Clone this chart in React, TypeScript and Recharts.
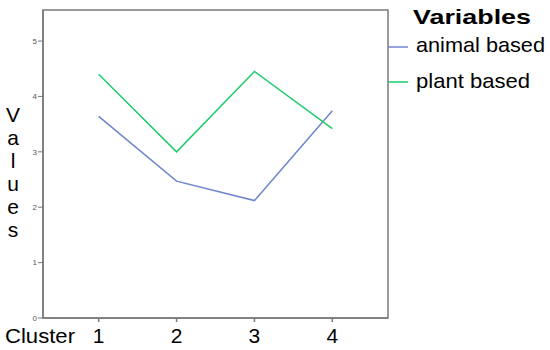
import React from "react";
import { LineChart, Line, XAxis, YAxis, ReferenceArea, Legend, Label } from "recharts";

const clusters = [1, 2, 3, 4];
const animalBased = [3.64, 2.47, 2.12, 3.74];
const plantBased = [4.4, 3.0, 4.45, 3.42];
const yTicks = [0, 1, 2, 3, 4, 5];
const seriesNames = ["animal based", "plant based"];
const legendTitle = "Variables";
const xAxisTitle = "Cluster";
const yAxisTitle = "Values";

const data = clusters.map((c, i) => ({ cluster: c, animal: animalBased[i], plant: plantBased[i] }));

const FONT = "'Liberation Sans', Arial, sans-serif";
const BLUE = "#6f85cc";
const GREEN = "#1fcc6b";
const FRAME = "#7a7a7a";

const X_DOMAIN: [number, number] = [0.285, 4.715];
const Y_DOMAIN: [number, number] = [0, 5.56];

const renderLegend = (props: any) => {
  const payload = props.payload || [];
  const rows = [
    { w: 129, y: 52, ly: 47 },
    { w: 114, y: 88, ly: 82 },
  ];
  return (
    <svg width={162} height={100} style={{ display: "block", fontFamily: FONT }}>
      <text x={25} y={24} fontSize={21} fontWeight="bold" fill="#000" textLength={118} lengthAdjust="spacingAndGlyphs">
        {legendTitle}
      </text>
      {payload.map((p: any, i: number) => (
        <g key={i}>
          <line x1={0} x2={20} y1={rows[i].ly} y2={rows[i].ly} stroke={p.color} strokeWidth={1.5} />
          <text x={28} y={rows[i].y} fontSize={21} fill="#000" textLength={rows[i].w} lengthAdjust="spacingAndGlyphs">
            {p.value}
          </text>
        </g>
      ))}
    </svg>
  );
};

const renderYTitle = () => {
  const letters = yAxisTitle.split("");
  return (
    <g>
      {letters.map((ch, i) => (
        <text key={i} x={13} y={122 + i * 23} textAnchor="middle" fontSize={21} fontFamily={FONT} fill="#000">
          {ch}
        </text>
      ))}
    </g>
  );
};

const renderXTitle = () => (
  <text x={5} y={343} fontSize={21} fontFamily={FONT} fill="#000" textLength={70} lengthAdjust="spacingAndGlyphs">
    {xAxisTitle}
  </text>
);

export default function App() {
  return (
    <div style={{ position: "absolute", left: 0, top: 0, width: 550, height: 350, background: "#fff" }}>
      <LineChart width={550} height={350} data={data} margin={{ top: 10, right: 162, bottom: 0, left: 0 }}>
        <XAxis
          dataKey="cluster"
          type="number"
          domain={X_DOMAIN}
          allowDataOverflow
          ticks={clusters}
          height={32}
          tickSize={4}
          tickMargin={6}
          axisLine={{ stroke: FRAME, strokeWidth: 1.5 }}
          tickLine={{ stroke: FRAME, strokeWidth: 1.5 }}
          tick={{ fontSize: 21, fill: "#000", fontFamily: FONT }}
        >
          <Label content={renderXTitle} />
        </XAxis>
        <YAxis
          type="number"
          domain={Y_DOMAIN}
          allowDataOverflow
          ticks={yTicks}
          width={43}
          tickSize={5}
          tickMargin={1}
          axisLine={{ stroke: FRAME, strokeWidth: 1.5 }}
          tickLine={{ stroke: FRAME, strokeWidth: 1 }}
          tick={{ fontSize: 8, fill: "#555", fontFamily: FONT }}
        >
          <Label content={renderYTitle} />
        </YAxis>
        <ReferenceArea
          x1={X_DOMAIN[0]}
          x2={X_DOMAIN[1]}
          y1={Y_DOMAIN[0]}
          y2={Y_DOMAIN[1]}
          fill="none"
          fillOpacity={0}
          stroke={FRAME}
          strokeWidth={1.5}
          ifOverflow="visible"
        />
        <Line
          dataKey="animal"
          name={seriesNames[0]}
          stroke={BLUE}
          strokeWidth={1.5}
          dot={false}
          activeDot={false}
          isAnimationActive={false}
        />
        <Line
          dataKey="plant"
          name={seriesNames[1]}
          stroke={GREEN}
          strokeWidth={1.5}
          dot={false}
          activeDot={false}
          isAnimationActive={false}
        />
        <Legend
          layout="vertical"
          align="center"
          verticalAlign="middle"
          content={renderLegend}
          wrapperStyle={{ position: "absolute", left: 388, top: 0, width: 162, height: 100 }}
        />
      </LineChart>
    </div>
  );
}
